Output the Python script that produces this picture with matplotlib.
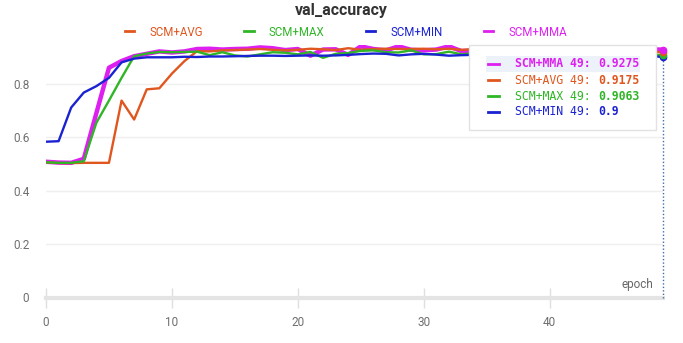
import matplotlib
matplotlib.use("Agg")
from matplotlib import pyplot as plt
from matplotlib.lines import Line2D
from matplotlib.patches import Rectangle
import numpy as np

# --- data ---
epochs = np.arange(50)

mma = [0.508, 0.505, 0.504, 0.519, 0.690, 0.860, 0.885, 0.903, 0.912, 0.921,
       0.917, 0.921, 0.930, 0.931, 0.928, 0.930, 0.931, 0.936, 0.933, 0.926,
       0.930, 0.905, 0.928, 0.929, 0.908, 0.940, 0.930, 0.925, 0.940, 0.927,
       0.925, 0.928, 0.940, 0.922, 0.925, 0.930, 0.920, 0.935, 0.928, 0.930,
       0.924, 0.936, 0.930, 0.926, 0.932, 0.928, 0.934, 0.930, 0.929, 0.9275]

avg = [0.506, 0.503, 0.503, 0.504, 0.504, 0.504, 0.737, 0.666, 0.779, 0.783,
       0.838, 0.885, 0.922, 0.921, 0.925, 0.926, 0.928, 0.930, 0.927, 0.925,
       0.927, 0.931, 0.929, 0.926, 0.933, 0.927, 0.930, 0.931, 0.930, 0.930,
       0.931, 0.929, 0.931, 0.927, 0.929, 0.930, 0.928, 0.930, 0.927, 0.929,
       0.930, 0.926, 0.928, 0.930, 0.927, 0.925, 0.927, 0.923, 0.920, 0.9175]

mx = [0.506, 0.504, 0.504, 0.510, 0.654, 0.737, 0.822, 0.903, 0.913, 0.919,
      0.918, 0.919, 0.920, 0.907, 0.918, 0.906, 0.902, 0.910, 0.918, 0.916,
      0.910, 0.919, 0.897, 0.912, 0.915, 0.923, 0.925, 0.918, 0.917, 0.925,
      0.910, 0.911, 0.920, 0.910, 0.915, 0.918, 0.910, 0.920, 0.912, 0.916,
      0.908, 0.915, 0.918, 0.910, 0.914, 0.912, 0.909, 0.912, 0.910, 0.9063]

mn = [0.583, 0.585, 0.711, 0.767, 0.791, 0.822, 0.880, 0.894, 0.899, 0.899,
      0.899, 0.901, 0.900, 0.902, 0.902, 0.903, 0.904, 0.905, 0.905, 0.904,
      0.905, 0.906, 0.905, 0.906, 0.908, 0.911, 0.913, 0.912, 0.906, 0.910,
      0.912, 0.909, 0.905, 0.907, 0.908, 0.910, 0.906, 0.909, 0.911, 0.907,
      0.905, 0.908, 0.910, 0.906, 0.904, 0.907, 0.905, 0.903, 0.904, 0.900]

final_labels = ["0.9275", "0.9175", "0.9063", "0.9"]
xticks = [0, 10, 20, 30, 40]
yticks = [0, 0.2, 0.4, 0.6, 0.8]

C_AVG = "#e0561f"
C_MAX = "#2fb526"
C_MIN = "#1a22d2"
C_MMA = "#dd1ff0"

UI_FONT = "Roboto"
MONO = "DejaVu Sans Mono"

W, H = 683, 343
fig = plt.figure(figsize=(W / 100, H / 100), dpi=100)
fig.patch.set_facecolor("white")

# axes placed in pixel terms: x 46..663, y(0)=297.5, top=45
ax = fig.add_axes([46 / W, (H - 297.5) / H, 617 / W, 252.5 / H])
ax.set_xlim(0, 49)
ax.set_ylim(0, 0.945)

ax.plot(epochs, mma, color=C_MMA, lw=3.2, zorder=2, solid_joinstyle="round")
ax.plot(epochs, avg, color=C_AVG, lw=1.7, zorder=3)
ax.plot(epochs, mx, color=C_MAX, lw=1.7, zorder=4)
ax.plot(epochs, mn, color=C_MIN, lw=1.7, zorder=5)

# hover marker column at the last epoch
ax.axvline(epochs[-1], color="#3d6fa8", lw=1, ls=(0, (1, 1.5)), zorder=6, clip_on=False)
for vals, c in [(mn, C_MIN), (mx, C_MAX), (avg, C_AVG), (mma, C_MMA)]:
    ax.plot(epochs[-1], vals[-1], "o", ms=4.5, color=c, mec=c, zorder=7, clip_on=False)

for s in ax.spines.values():
    s.set_visible(False)
ax.axhline(0, color="#e4e4e4", lw=3, zorder=1, clip_on=False)
ax.set_yticks(yticks)
ax.set_yticklabels(["0", "0.2", "0.4", "0.6", "0.8"])
ax.set_xticks(xticks)
ax.grid(axis="y", color="#efefef", lw=1)
ax.set_axisbelow(True)
ax.tick_params(axis="y", length=0, pad=12, labelsize=8.5, labelcolor="#6f6f6f")
ax.tick_params(axis="x", direction="inout", length=14, width=1, color="#e0e0e0",
               pad=6, labelsize=8.5, labelcolor="#6f6f6f")
for lab in ax.get_xticklabels() + ax.get_yticklabels():
    lab.set_fontfamily(UI_FONT)

ax.text(0.985, 0.025, "epoch", transform=ax.transAxes, ha="right", va="bottom",
        fontsize=8.5, color="#666666", family=UI_FONT)

fig.text(341 / W, 1 - 10 / H, "val_accuracy", ha="center", va="center",
         fontsize=11.5, color="#333333", family=UI_FONT, fontweight="bold")

# top legend
handles = [Line2D([], [], color=c, lw=2) for c in (C_AVG, C_MAX, C_MIN, C_MMA)]
fig.legend(handles, ["SCM+AVG", "SCM+MAX", "SCM+MIN", "SCM+MMA"],
           loc="center", bbox_to_anchor=(346 / W, 1 - 32 / H), ncol=4, frameon=False,
           handlelength=0.8, handletextpad=1.3, columnspacing=3.6,
           labelcolor="linecolor", prop={"family": UI_FONT, "size": 8.3})

# hover box on the right
box = Rectangle((469 / W, 1 - 130 / H), 187 / W, 85 / H, transform=fig.transFigure,
                facecolor="white", edgecolor="#e2e2e2", lw=1, zorder=10)
fig.add_artist(box)
hl = Rectangle((486 / W, 1 - 72 / H), 154 / W, 16 / H, transform=fig.transFigure,
               facecolor="#edf2fa", edgecolor="none", zorder=11)
fig.add_artist(hl)

rows = [("SCM+MMA", C_MMA, final_labels[0], True),
        ("SCM+AVG", C_AVG, final_labels[1], False),
        ("SCM+MAX", C_MAX, final_labels[2], False),
        ("SCM+MIN", C_MIN, final_labels[3], False)]
row_y = [63.5, 80, 96, 112]
char_px = 0.602 * 8.3 * 100 / 72
for (name, c, val, hot), yy in zip(rows, row_y):
    fy = 1 - yy / H
    fig.add_artist(Line2D([488 / W, 499 / W], [fy, fy], transform=fig.transFigure,
                          color=c, lw=2, zorder=12))
    fig.text(515 / W, fy, f"{name} 49: ", ha="left", va="center", fontsize=8.3,
             family=MONO, color=c, fontweight="bold" if hot else "normal", zorder=12)
    fig.text((515 + 12 * char_px) / W, fy, val, ha="left", va="center", fontsize=8.3,
             family=MONO, color=c, fontweight="bold", zorder=12)

fig.savefig("out.png", dpi=100, facecolor="white")
